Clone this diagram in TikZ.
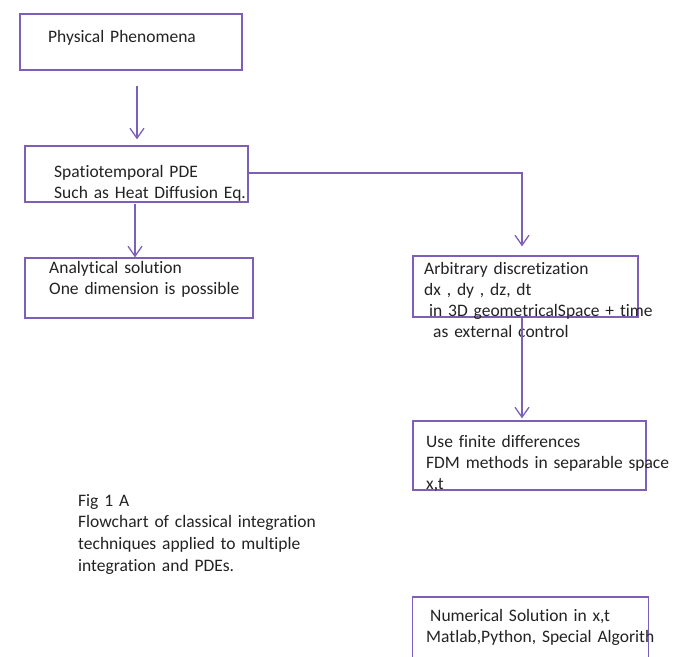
\documentclass[tikz,border=0pt]{standalone}
\usepackage{fontspec}
\setmainfont{Carlito}[Ligatures={NoCommon}]
\usetikzlibrary{arrows.meta}
\definecolor{flowpurple}{RGB}{125,95,185}
\definecolor{inkgray}{RGB}{35,35,35}

\begin{document}
\begin{tikzpicture}[x=1pt, y=-1pt,
  box/.style={draw=flowpurple, line width=1.3pt, rectangle, inner sep=0pt},
  label/.style={anchor=base west, inner sep=0pt, text width=260pt, align=left,
    text=inkgray, font=\fontsize{17.5}{21}\selectfont},
  flow/.style={draw=flowpurple, line width=1.3pt, -{Straight Barb[length=10pt,width=14pt]}}]

\clip (0,0) rectangle (680,656);
\fill[white] (0,0) rectangle (680,656);

\node[box, minimum width=222pt, minimum height=56pt] (phys) at (131,42) {};
\node[box, minimum width=223pt, minimum height=56pt] (pde) at (136.5,174) {};
\node[box, minimum width=228pt, minimum height=60pt] (anal) at (139,288) {};
\node[box, minimum width=225pt, minimum height=61pt] (disc) at (525.5,286.5) {};
\node[box, minimum width=233pt, minimum height=69pt] (fdm) at (529.5,455.5) {};
\node[box, minimum width=236pt, minimum height=80pt] (numsol) at (530.5,637) {};

\node[label] (physT) at (48,42) {Physical Phenomena};
\node[label] (pdeT) at (54,177) {Spatiotemporal PDE\\Such as Heat Diffusion Eq.};
\node[label] (analT) at (49,273) {Analytical solution\\One dimension is possible};
\node[label] (discT) at (424,274) {Arbitrary discretization\\dx , dy , dz, dt\\\hspace*{5pt}in 3D geometricalSpace + time\\\hspace*{9pt}as external control};
\node[label] (fdmT) at (426,447) {Use finite differences\\FDM methods in separable space\\x,t};
\node[label, font=\fontsize{17.5}{21.7}\selectfont] (figT) at (78,506) {Fig 1 A\\Flowchart of classical integration\\techniques applied to multiple\\integration and PDEs.};
\node[label] (numT) at (426,621) {\hspace*{4pt}Numerical Solution in x,t\\Matlab,Python, Special Algorith};

\draw[flow] ([shift={(6,15)}]phys.south) -- ([shift={(0.5,-6)}]pde.north);
\draw[flow] ([shift={(-1.5,1)}]pde.south) -- ([shift={(-1.5,0)}]pde.south |- anal.north);
\draw[flow] ([shift={(0,-1)}]pde.east) -| ([shift={(-3.5,-9)}]disc.north);
\draw[flow] ([shift={(-3.5,0)}]disc.south) -- ([shift={(-3.5,-2)}]disc.south |- fdm.north);

\end{tikzpicture}
\end{document}
